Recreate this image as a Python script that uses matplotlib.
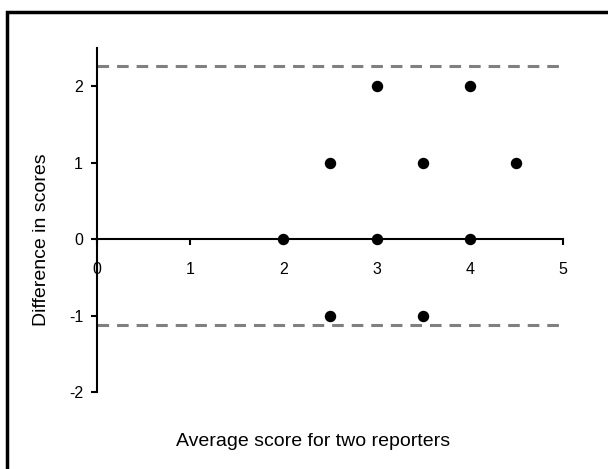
import matplotlib.pyplot as plt
from matplotlib.patches import Rectangle

# Bland-Altman data
avg_score = [2, 2.5, 2.5, 3, 3, 3.5, 3.5, 4, 4, 4.5]
diff_score = [0, 1, -1, 2, 0, 1, -1, 2, 0, 1]
upper_limit = 2.27
lower_limit = -1.13
x_ticks = [0, 1, 2, 3, 4, 5]
y_ticks = [-2, -1, 0, 1, 2]

plt.rcParams['font.family'] = ['Liberation Sans', 'DejaVu Sans']
plt.rcParams['font.size'] = 11.5

fig = plt.figure(figsize=(6.08, 4.69), dpi=100)
W, H = 608, 469
ax = fig.add_axes([97 / W, (H - 392) / H, 466 / W, (392 - 48) / H])

# outer frame (cut off at right and bottom like the source)
fig.patches.append(Rectangle((7 / W, -0.05), 1.1, (H - 12) / H + 0.05,
                             transform=fig.transFigure, fill=False,
                             edgecolor='black', linewidth=2.5))

ax.plot([0, 5], [upper_limit, upper_limit], color='#808080', lw=2.2,
        dashes=(3.8, 2.6), zorder=1)
ax.plot([0, 5], [lower_limit, lower_limit], color='#808080', lw=2.2,
        dashes=(3.8, 2.6), zorder=1)
ax.scatter(avg_score, diff_score, s=52, color='black', zorder=3, clip_on=False)

ax.set_xlim(0, 5)
ax.set_ylim(-2, 2.5)
ax.spines['top'].set_visible(False)
ax.spines['right'].set_visible(False)
ax.spines['left'].set_position(('data', 0))
ax.spines['bottom'].set_position(('data', 0))
ax.spines['left'].set_linewidth(1.5)
ax.spines['bottom'].set_linewidth(1.5)
ax.spines['left'].set_zorder(2)
ax.spines['bottom'].set_zorder(2)

ax.set_xticks(x_ticks)
ax.set_yticks(y_ticks)
ax.set_yticklabels([str(t) for t in y_ticks])
ax.tick_params(axis='both', direction='out', length=4, width=1.5, labelsize=11.5)
ax.tick_params(axis='x', pad=12.5)
ax.tick_params(axis='y', pad=6)

fig.text(313 / W, 1 - 441 / H, 'Average score for two reporters',
         ha='center', va='center', fontsize=14)
fig.text(42 / W, 1 - 240 / H, 'Difference in scores', rotation=90,
         ha='center', va='center', fontsize=14)

fig.savefig('out.png', dpi=100)
